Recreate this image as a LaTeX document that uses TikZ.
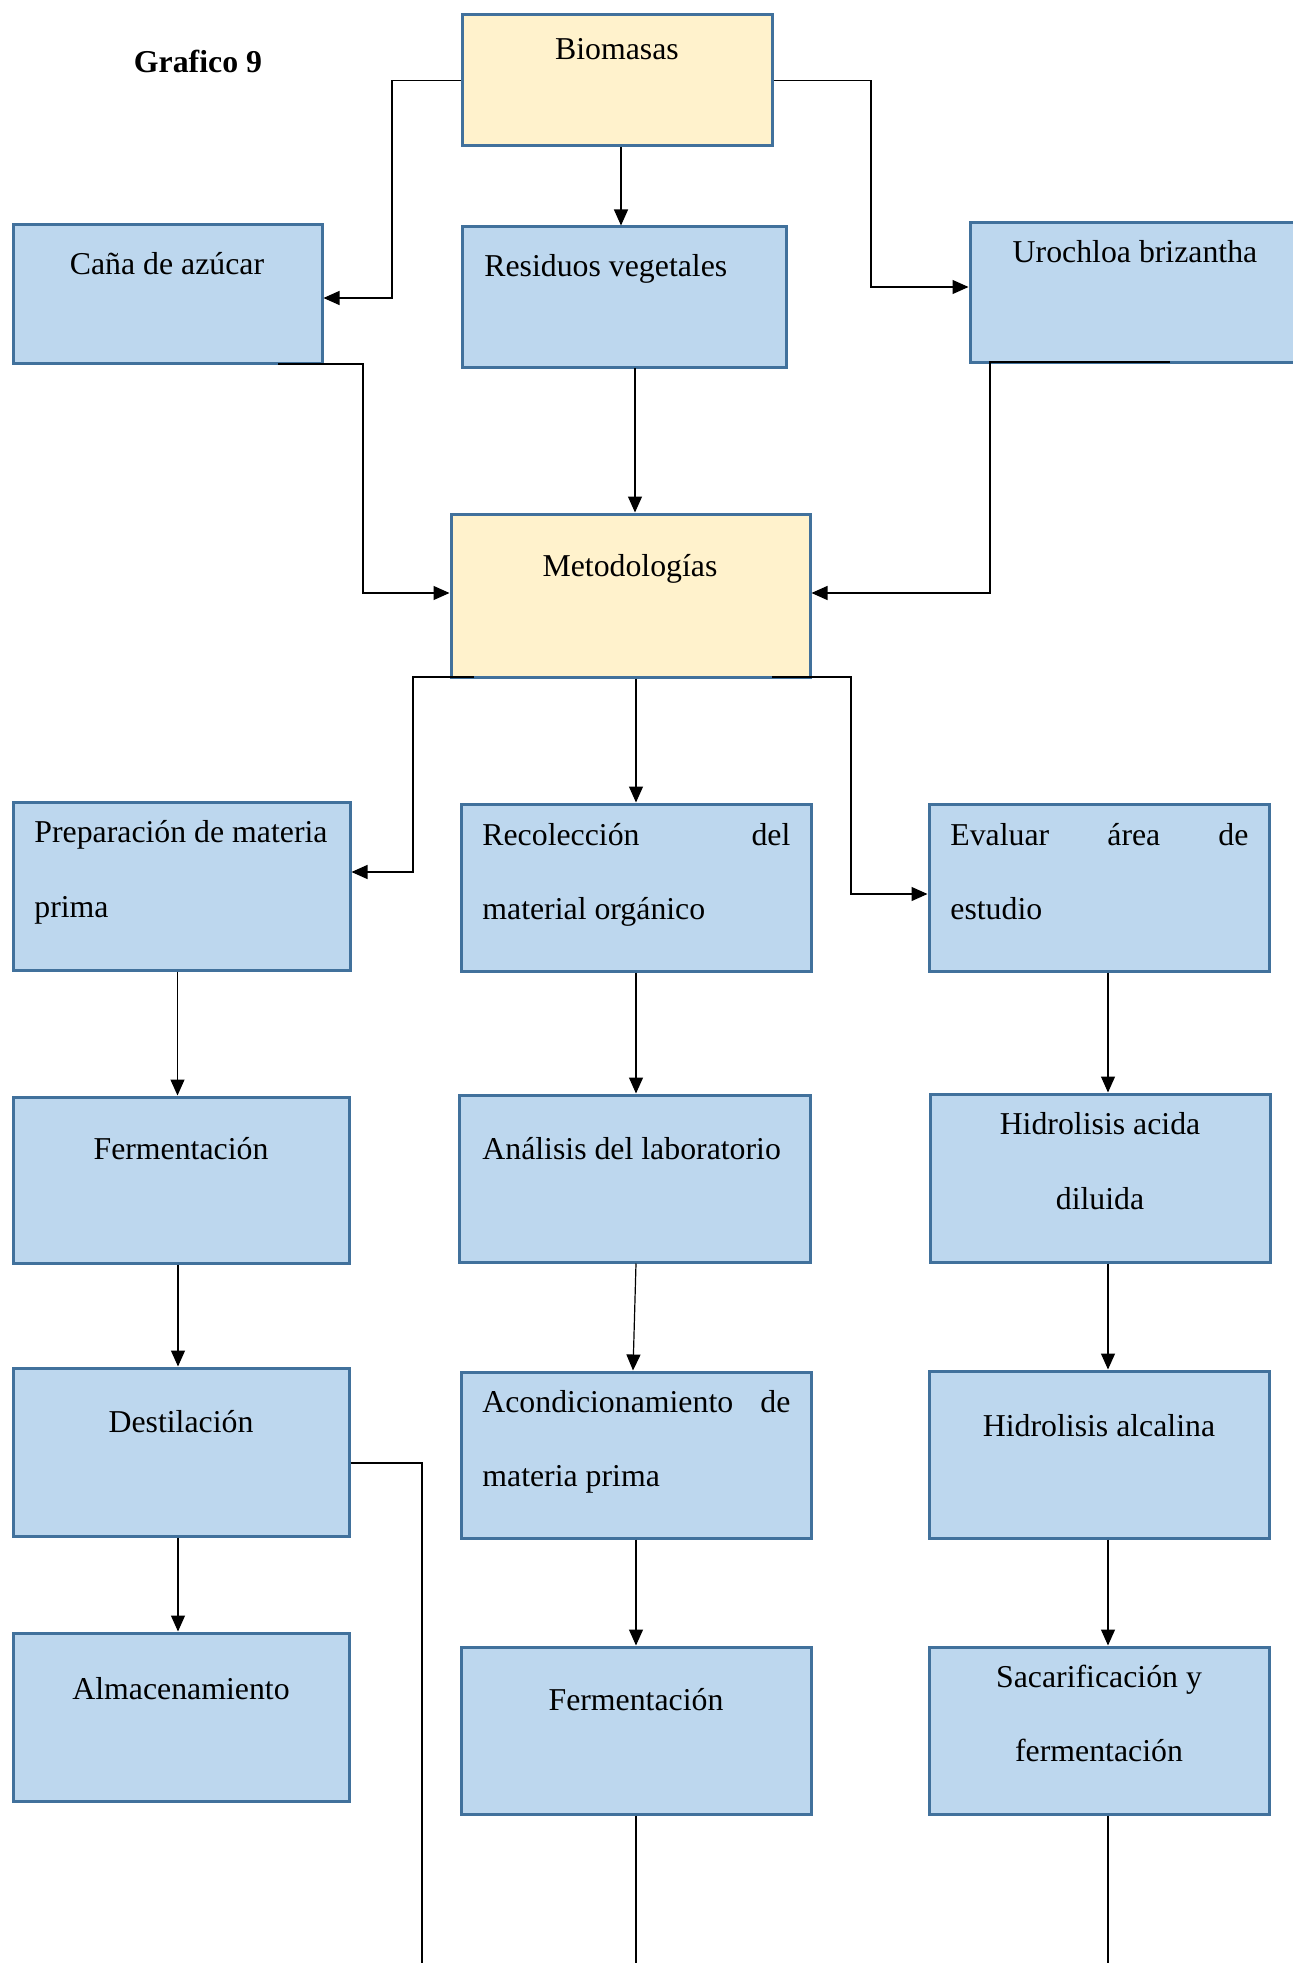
\documentclass[tikz,border=0pt]{standalone}
\usepackage{fontspec}
\setmainfont{Liberation Serif}
\usetikzlibrary{arrows.meta,fit,calc}
\definecolor{bfill}{HTML}{BDD7EE}
\definecolor{yfill}{HTML}{FFF2CC}
\definecolor{bdr}{HTML}{41719C}
\begin{document}
\begin{tikzpicture}[x=0.5pt,y=-0.5pt,
 bluebox/.style={draw=bdr,fill=bfill,line width=1.5pt,inner sep=0pt,rectangle},
 yelbox/.style={bluebox,fill=yfill},
 lbl/.style={inner sep=0pt,font=\fontsize{15.9}{19}\selectfont},
 conn/.style={draw=black,line width=0.6pt,-{Triangle[length=8pt,width=7pt]}},
 wire/.style={draw=black,line width=0.6pt}]
\useasboundingbox (0,0) rectangle (1293,1963);
% boxes
\node[yelbox,fit={(462,15) (772,146)}] (bio) {};
\node[bluebox,fit={(13,225) (322,364)}] (cana) {};
\node[bluebox,fit={(462,227) (786,368)}] (resid) {};
\node[bluebox,fit={(970,223) (1300,363)}] (uro) {};
\node[yelbox,fit={(451,514) (810,677)}] (met) {};
\node[bluebox,fit={(13,802) (350,970)}] (prep) {};
\node[bluebox,fit={(461,804) (811,971)}] (reco) {};
\node[bluebox,fit={(929,804) (1269,971)}] (eval) {};
\node[bluebox,fit={(13,1097) (349,1263)}] (ferm1) {};
\node[bluebox,fit={(459,1095) (810,1262)}] (anal) {};
\node[bluebox,fit={(930,1094) (1270,1262)}] (hacid) {};
\node[bluebox,fit={(13,1368) (349,1536)}] (dest) {};
\node[bluebox,fit={(461,1372) (811,1538)}] (acond) {};
\node[bluebox,fit={(929,1371) (1269,1538)}] (halc) {};
\node[bluebox,fit={(13,1633) (349,1801)}] (alm) {};
\node[bluebox,fit={(461,1647) (811,1814)}] (ferm2) {};
\node[bluebox,fit={(929,1647) (1269,1814)}] (sacar) {};
% helper coordinates
\coordinate (cb) at (278,364);
\coordinate (rs) at (635,368);
\coordinate (ub) at (1170,362);
\coordinate (ml) at (474,677);
\coordinate (mr) at (772,677);
\coordinate (dend) at (422,1970);
% connectors
\draw[conn] (bio.west) -- (392,80.5) |- ([yshift=-1.75pt]cana.east);
\draw[conn] (bio.east) -- (871,80.5) |- ([yshift=3pt]uro.west);
\draw[conn] ([xshift=2pt]bio.south) -- ([xshift=2pt]bio.south |- resid.north);
\draw[conn] (cb) -- (363,364) |- ([yshift=1.25pt]met.west);
\draw[conn] (rs) -- (rs |- met.north);
\draw[conn] (ub) -- (990,362) |- ([yshift=1.25pt]met.east);
\draw[conn] (ml) -- (413,677) |- ([yshift=7pt]prep.east);
\draw[conn] (met.south -| reco.north) -- (reco.north);
\draw[conn] (mr) -- (851,677) |- ([yshift=-3.25pt]eval.west);
\draw[conn] ([xshift=-2pt]prep.south) -- ([xshift=-2pt]prep.south |- ferm1.north);
\draw[conn] ([xshift=-1.5pt]ferm1.south) -- ([xshift=-1.5pt]ferm1.south |- dest.north);
\draw[conn] ([xshift=-1.5pt]dest.south) -- ([xshift=-1.5pt]dest.south |- alm.north);
\draw[conn] (reco.south) -- (reco.south |- anal.north);
\draw[conn] ([xshift=0.75pt]anal.south) -- ([xshift=-1.5pt]acond.north);
\draw[conn] (acond.south) -- (acond.south |- ferm2.north);
\draw[conn] ([xshift=4.5pt]eval.south) -- ([xshift=4.5pt]eval.south |- hacid.north);
\draw[conn] ([xshift=4pt]hacid.south) -- ([xshift=4pt]hacid.south |- halc.north);
\draw[conn] ([xshift=4.5pt]halc.south) -- ([xshift=4.5pt]halc.south |- sacar.north);
\draw[wire] ([yshift=-5.5pt]dest.east) -| (dend);
\draw[wire] (ferm2.south) -- (ferm2.south |- dend);
\draw[wire] ([xshift=4.5pt]sacar.south) -- ([xshift=4.5pt]sacar.south |- dend);
% texts
\node[lbl,anchor=base,font=\fontsize{15.9}{19}\selectfont\bfseries] (t-graf) at (198,73) {Grafico 9};
\node[lbl,anchor=base] (t-bio) at (617,60) {Biomasas};
\node[lbl,anchor=base] (t-cana) at (167,275) {Caña de azúcar};
\node[lbl,anchor=base west] (t-res) at (484,277) {Residuos vegetales};
\node[lbl,anchor=base] (t-uro) at (1135,263) {Urochloa brizantha};
\node[lbl,anchor=base] (t-met) at (630,576) {Metodologías};
\node[lbl,anchor=base west] (t-prep1) at (34,842) {Preparación de materia};
\node[lbl,anchor=base west] (t-prep2) at (34,917) {prima};
\node[lbl,anchor=base west] (t-reco1) at (482,845) {\makebox[154pt][s]{Recolección del}};
\node[lbl,anchor=base west] (t-reco2) at (482,919) {material orgánico};
\node[lbl,anchor=base west] (t-eval1) at (950,845) {\makebox[149pt][s]{Evaluar área de}};
\node[lbl,anchor=base west] (t-eval2) at (950,919) {estudio};
\node[lbl,anchor=base] (t-f1) at (181,1159) {Fermentación};
\node[lbl,anchor=base west] (t-anal) at (482,1159) {Análisis del laboratorio};
\node[lbl,anchor=base] (t-ha1) at (1100,1134) {Hidrolisis acida};
\node[lbl,anchor=base] (t-ha2) at (1100,1209) {diluida};
\node[lbl,anchor=base] (t-dest) at (181,1432) {Destilación};
\node[lbl,anchor=base west] (t-ac1) at (482,1412) {\makebox[154pt][s]{Acondicionamiento de}};
\node[lbl,anchor=base west] (t-ac2) at (482,1486) {materia prima};
\node[lbl,anchor=base] (t-hal) at (1099,1436) {Hidrolisis alcalina};
\node[lbl,anchor=base] (t-alm) at (181,1699) {Almacenamiento};
\node[lbl,anchor=base] (t-f2) at (636,1710) {Fermentación};
\node[lbl,anchor=base] (t-sa1) at (1099,1687) {Sacarificación y};
\node[lbl,anchor=base] (t-sa2) at (1099,1761) {fermentación};
\end{tikzpicture}
\end{document}
